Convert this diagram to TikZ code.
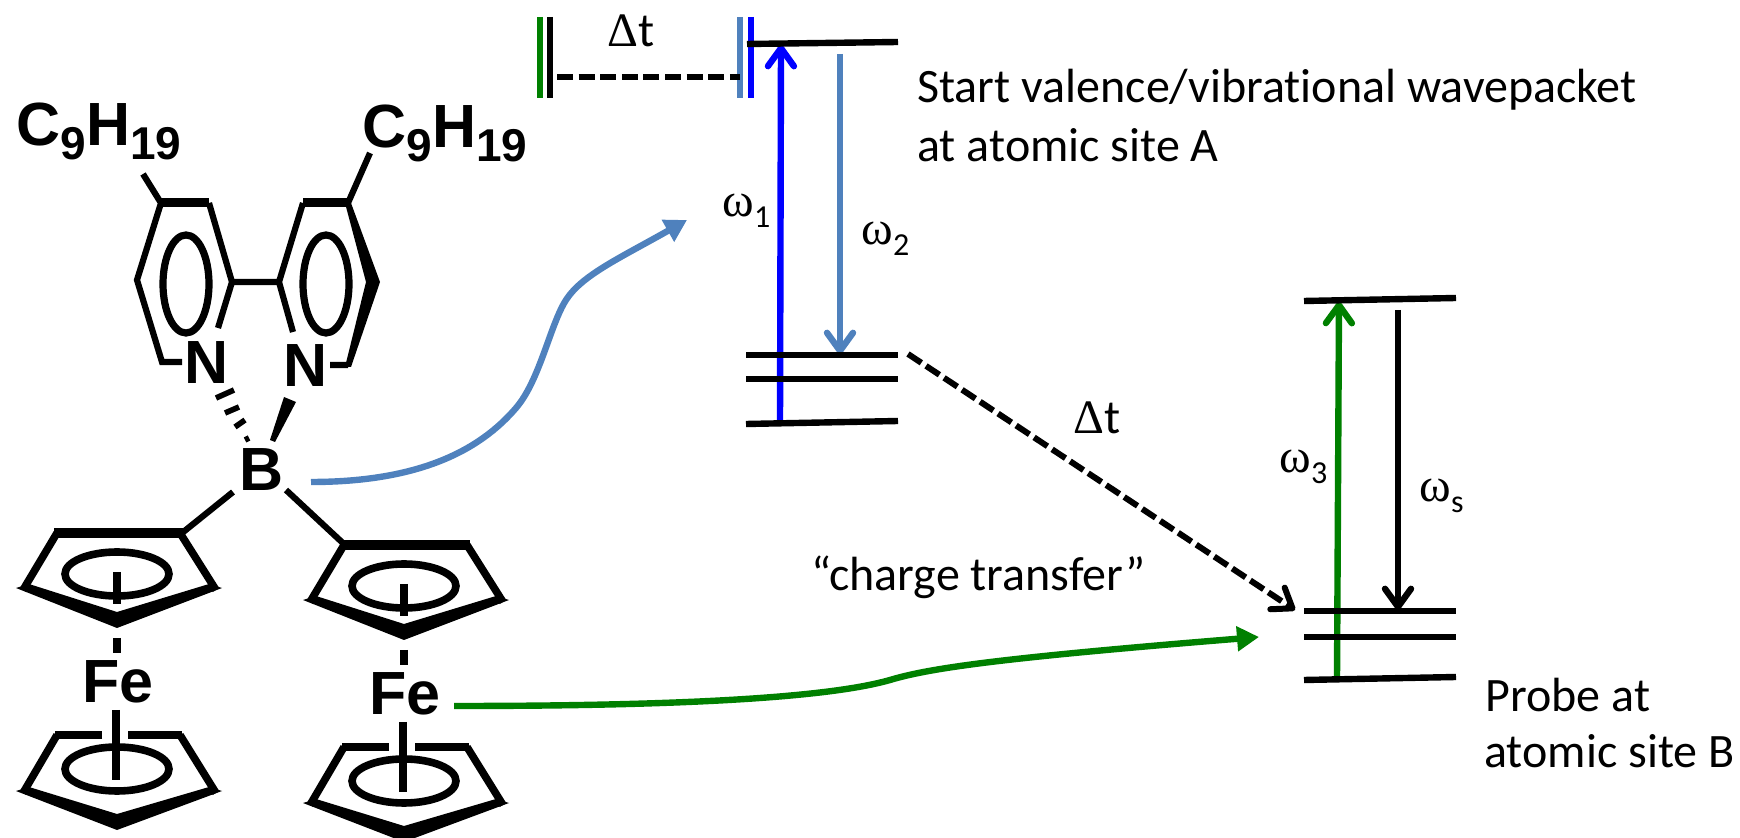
\documentclass[tikz,border=0pt]{standalone}
\usepackage{fontspec}
\usepackage{tikz}
\usetikzlibrary{arrows.meta}
\setmainfont{Carlito}[Ligatures=NoCommon]
\newfontfamily\symfont{Liberation Serif}
\newfontfamily\atomfont{Liberation Sans}[BoldFont={Liberation Sans Bold}]
\newcommand{\nonyl}{C\raisebox{-7pt}{\fontsize{23}{23}\selectfont 9}H\raisebox{-7pt}{\fontsize{23}{23}\selectfont 19}}
\newcommand{\freq}[1]{{\symfont ω}\raisebox{-5.5pt}{\fontsize{16}{16}\selectfont #1}}
\definecolor{steel}{RGB}{79,129,189}
\definecolor{pgreen}{RGB}{0,128,0}
\tikzset{
  atom/.style={inner sep=0pt, font=\atomfont\bfseries\fontsize{30.5}{30.5}\selectfont},
  txt/.style={inner sep=0pt, anchor=base west, font=\fontsize{24}{24}\selectfont},
  bond/.style={line width=3.1pt},
  ringbond/.style={line width=3.8pt},
  level/.style={line width=3.2pt},
  bar/.style={line width=3pt},
  timing/.style={line width=3pt, dash pattern=on 8pt off 2.8pt},
  transition/.style={line width=3.2pt, -{Straight Barb[round,length=9pt,width=13pt]}},
  guide/.style={line width=3.2pt, -{Triangle[length=11pt,width=12pt]}}
}
\begin{document}
\begin{tikzpicture}[x=0.5pt,y=-0.5pt]
\clip (0,0) rectangle (1740,838);

% Bipyridine
\draw[bond] (143,174) -- (161,203) (182,362) -- (162,362) -- (137,280) -- (161,203);
\draw[bond] (218,328) -- (232,282) -- (209,203) (232,282) -- (279,282) -- (303,203) (279,282) -- (293,332);
\draw[bond] (370,153) -- (348,203) (330,365) -- (348,365);
\draw[line width=4.5pt] (161,203) -- (209,203) (303,203) -- (348,203);
\fill (345,203) -- (351,203) -- (380,282) -- (351,367) -- (345,367) -- (366,282) -- cycle;
\draw[line width=3.6pt] (186,284) ellipse (23 and 49);
\draw[line width=3.6pt] (326,284) ellipse (23 and 49);

% Bonds at boron
\draw[line width=2.8pt] (216,398) -- (234,390) (225,413) -- (239,407) (235,427) -- (245,420) (245,440) -- (249,438);
\fill (284,397) -- (296,402) -- (275,442) -- (270,440) -- cycle;
\draw[bond] (233,492) -- (182,533) (286,490) -- (345,545);

% Ferrocenes
\foreach \dx/\dy in {0/0, 287/12} {
\begin{scope}[shift={(\dx,\dy)}]
  % upper ring
  \draw[ringbond] (23,590) -- (57,533) (180,533) -- (216,590);
  \draw[line width=4.6pt] (54,533) -- (183,533);
  \fill (16,588) -- (117,628) -- (222,588) -- (209,584) -- (117,612) -- (29,584) -- cycle;
  \draw[ringbond] (117,574) ellipse (52 and 22);
  \draw[line width=3.8pt] (117,572) -- (117,604) (117,638) -- (117,653);
  % lower ring
  \draw[ringbond] (23,793) -- (57,735) (180,735) -- (216,793);
  \draw[line width=3.8pt] (102,735) -- (55,735) (128,735) -- (182,735);
  \fill (16,791) -- (117,830) -- (222,791) -- (209,787) -- (117,814) -- (29,787) -- cycle;
  \draw[ringbond] (117,769) ellipse (52 and 22);
  \draw[line width=3.8pt] (116,710) -- (116,780);
\end{scope}
}

% Atoms
\node[atom, anchor=base west] (nonylA) at (16,146) {\nonyl};
\node[atom, anchor=base west] (nonylB) at (362,148) {\nonyl};
\node[atom] (nA) at (207,363) {N};
\node[atom] (nB) at (306,366) {N};
\node[atom] (boron) at (262,470) {B};
\node[atom] (feA) at (118,682) {Fe};
\node[atom] (feB) at (405,694) {Fe};

% End points
\coordinate (pumpA) at (780,422);
\coordinate (pumpB) at (781,45);
\coordinate (dumpA) at (840,54);
\coordinate (dumpB) at (840,354);
\coordinate (probeA) at (1337,677);
\coordinate (probeB) at (1339,302);
\coordinate (sigA) at (1398,310);
\coordinate (sigB) at (1398,610);
\coordinate (delayA) at (557,77);
\coordinate (delayB) at (740,77);
\coordinate (transA) at (908,354);
\coordinate (transB) at (1295,610);
\coordinate (siteA) at (687,220);
\coordinate (siteB) at (1259,637);
\coordinate (boronOut) at (311,482);
\coordinate (feOut) at (454,706);

% Pulse bars
\draw[bar, pgreen] (540,17) -- (540,98);
\draw[bar] (550,17) -- (550,98);
\draw[bar, steel] (740,17) -- (740,98);
\draw[bar, blue] (751,17) -- (751,98);
\draw[timing] (delayA) -- (delayB);

% Arrows
\draw[transition, blue] (pumpA) -- (pumpB);
\draw[transition, steel] (dumpA) -- (dumpB);
\draw[transition, pgreen] (probeA) -- (probeB);
\draw[transition] (sigA) -- (sigB);
\draw[timing, -{Straight Barb[round,length=9pt,width=13pt]}] (transA) -- (transB);
\draw[guide, steel] (boronOut) .. controls (420,482) and (480,450) .. (516,408)
  .. controls (540,380) and (550,325) .. (566,300)
  .. controls (582,275) and (620,258) .. (siteA);
\draw[guide, pgreen] (feOut) .. controls (650,706) and (820,700) .. (890,680)
  .. controls (930,668) and (1000,658) .. (siteB);

% Levels
\draw[level] (747,44) -- (898,42);
\draw[level] (746,355) -- (898,355);
\draw[level] (746,379) -- (898,379);
\draw[level] (746,424) -- (898,421);
\draw[level] (1304,301) -- (1456,298);
\draw[level] (1304,611) -- (1456,611);
\draw[level] (1304,637) -- (1456,637);
\draw[level] (1304,680) -- (1456,677);

% Labels
\node[txt] (startA) at (917,103) {Start valence/vibrational wavepacket};
\node[txt] (startB) at (917,162) {at atomic site A};
\node[txt] (delayC) at (607,47) {{\symfont Δ}t};
\node[txt] (transC) at (1073,434) {{\symfont Δ}t};
\node[txt] (chargeT) at (811,591) {“charge transfer”};
\node[txt] (freqA) at (722,217) {\freq{1}};
\node[txt] (freqB) at (861,245) {\freq{2}};
\node[txt] (freqC) at (1279,473) {\freq{3}};
\node[txt] (freqS) at (1419,502) {\freq{s}};
\node[txt] (probeC) at (1485,712) {Probe at};
\node[txt] (probeD) at (1484,768) {atomic site B};
\end{tikzpicture}
\end{document}
